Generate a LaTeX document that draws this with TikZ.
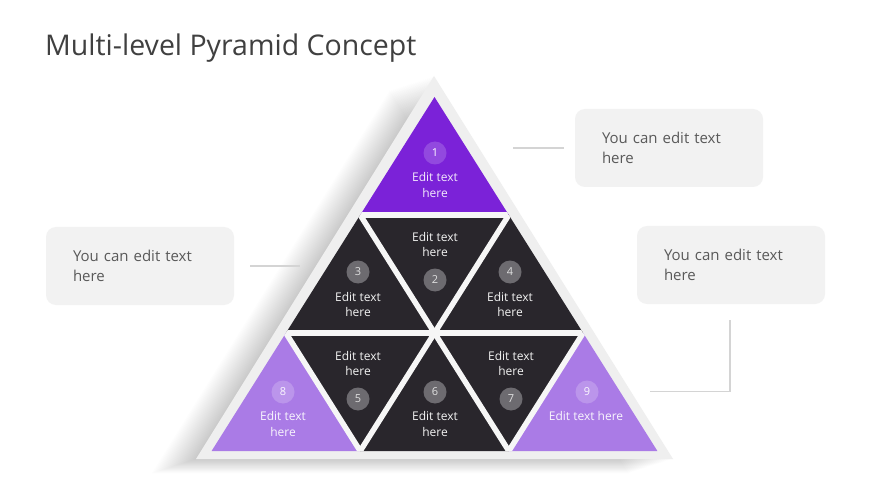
\documentclass[tikz,border=0pt]{standalone}
\usepackage{fontspec}
\setmainfont{Open Sans}
\definecolor{purpA}{HTML}{7B22D8}
\definecolor{purpB}{HTML}{AA7BE6}
\definecolor{darkT}{HTML}{29262C}
\definecolor{outerG}{HTML}{EFEFEF}
\definecolor{gapG}{HTML}{F6F6F6}
\definecolor{boxG}{HTML}{F2F2F2}
\definecolor{titleC}{HTML}{404040}
\definecolor{boxTxt}{HTML}{595959}
\definecolor{connC}{HTML}{D4D4D4}
\begin{document}
\begin{tikzpicture}[x=1pt,y=-1pt,
  tritext/.style={font=\fontsize{12}{15.5}\selectfont, align=center, inner sep=0pt},
  numc/.style={circle, minimum size=23pt, inner sep=0pt, font=\fontsize{11}{13}\selectfont},
  numA/.style={numc, fill=white, fill opacity=0.18, text opacity=1, text=white},
  numD/.style={numc, fill=white!32!darkT, text=white!88!black},
  numB/.style={numc, fill=white, fill opacity=0.2, text opacity=1, text=white!95!purpB},
  callout/.style={rounded corners=10pt, fill=boxG, minimum width=188pt, minimum height=78pt,
     text width=134pt, align=left, inner xsep=27pt, text=boxTxt, font=\fontsize{15}{20}\selectfont},
  conn/.style={draw=connC, line width=1.6pt},
  gapline/.style={draw=gapG, line width=5.5pt}
]
\useasboundingbox (0,0) rectangle (870,489);
\fill[white] (0,0) rectangle (870,489);

% soft shadow of the pyramid
\foreach \k in {1,...,26}{
  \fill[black, opacity=0.0065, shift={(-1.7*\k,0.55*\k)}] (434,76) -- (673,459) -- (196,459) -- cycle;
}
% outer grey triangle
\fill[outerG] (434,76) -- (673,459) -- (196,459) -- cycle;

% lattice
\coordinate (A) at (434.5,97);
\coordinate (L1) at (360.2,215);
\coordinate (R1) at (508.8,215);
\coordinate (L2) at (285.9,333);
\coordinate (M2) at (434.5,333);
\coordinate (R2) at (583.1,333);
\coordinate (P0) at (211.6,451);
\coordinate (P1) at (360.2,451);
\coordinate (P2) at (508.8,451);
\coordinate (P3) at (657.4,451);

\fill[purpA] (A) -- (L1) -- (R1) -- cycle;
\fill[darkT] (L1) -- (L2) -- (M2) -- cycle;
\fill[darkT] (L1) -- (R1) -- (M2) -- cycle;
\fill[darkT] (R1) -- (M2) -- (R2) -- cycle;
\fill[purpB] (L2) -- (P0) -- (P1) -- cycle;
\fill[darkT] (L2) -- (M2) -- (P1) -- cycle;
\fill[darkT] (M2) -- (P1) -- (P2) -- cycle;
\fill[darkT] (M2) -- (R2) -- (P2) -- cycle;
\fill[purpB] (R2) -- (P2) -- (P3) -- cycle;

\begin{scope}
  \clip (A) -- (P0) -- (P3) -- cycle;
  \draw[gapline] (L1) -- (R1);
  \draw[gapline] (L2) -- (R2);
  \draw[gapline] (L1) -- (P2);
  \draw[gapline] (L2) -- (P1);
  \draw[gapline] (R1) -- (P1);
  \draw[gapline] (R2) -- (P2);
\end{scope}

% triangle 1
\node[numA] (n1) at (435,153) {1};
\node[tritext, text=white!90!purpA] (t1) at (435,185) {Edit text\\here};
% triangle 2
\node[tritext, text=white!95!black] (t2) at (435,244.5) {Edit text\\here};
\node[numD] (n2) at (435,280) {2};
% triangle 3
\node[numD] (n3) at (358,272) {3};
\node[tritext, text=white!95!black] (t3) at (358,304.5) {Edit text\\here};
% triangle 4
\node[numD] (n4) at (510,272) {4};
\node[tritext, text=white!95!black] (t4) at (510,304.5) {Edit text\\here};
% triangle 5
\node[tritext, text=white!95!black] (t5) at (358,363.5) {Edit text\\here};
\node[numD] (n5) at (358,399) {5};
% triangle 6
\node[numD] (n6) at (435,392) {6};
\node[tritext, text=white!95!black] (t6) at (435,424) {Edit text\\here};
% triangle 7
\node[tritext, text=white!95!black] (t7) at (511,363.5) {Edit text\\here};
\node[numD] (n7) at (511,399) {7};
% triangle 8
\node[numB] (n8) at (283,392) {8};
\node[tritext, text=white!92!purpB] (t8) at (283,424) {Edit text\\here};
% triangle 9
\node[numB] (n9) at (587,392) {9};
\node[tritext, text=white!92!purpB] (t9) at (586,416) {Edit text here};

% title
\node[anchor=base west, inner sep=0pt, text=titleC, font=\fontsize{28.5}{34}\selectfont] (title) at (45,56) {Multi-level Pyramid Concept};

% callouts
\node[callout] (b1) at (669,148) {You can edit text\\here};
\node[callout] (b2) at (140,266) {You can edit text\\here};
\node[callout] (b3) at (731,265) {You can edit text\\here};

% connectors
\coordinate (k1a) at (513,148);
\coordinate (k1b) at (564,148);
\coordinate (k2a) at (250,266);
\coordinate (k2b) at (300,266);
\coordinate (k3a) at (730,320);
\coordinate (k3b) at (650,391.5);
\draw[conn] (k1a) -- (k1b);
\draw[conn] (k2a) -- (k2b);
\draw[conn] (k3a) |- (k3b);
\end{tikzpicture}
\end{document}
